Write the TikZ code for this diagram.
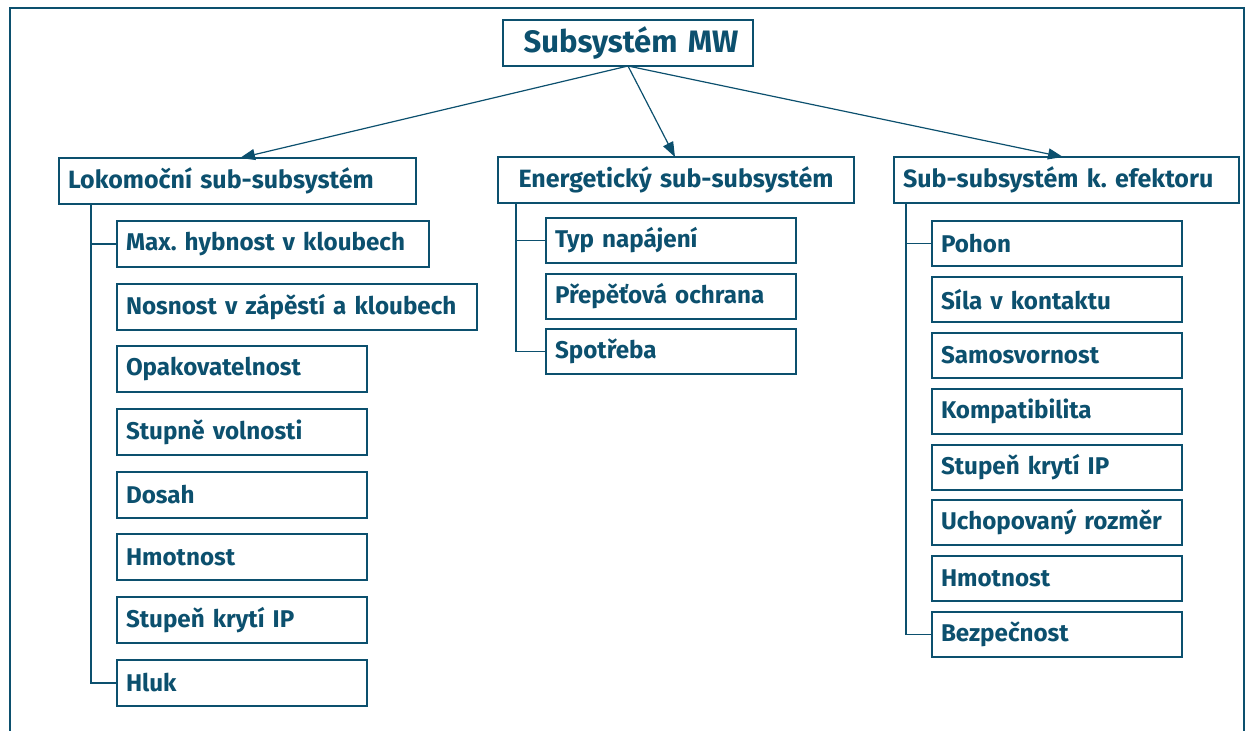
\documentclass[tikz,border=0pt]{standalone}
\usepackage{fontspec}
\setmainfont{Fira Sans}
\frenchspacing
\usetikzlibrary{arrows.meta,calc}
\definecolor{navy}{RGB}{12,80,110}
\tikzset{
  cell/.style={draw=navy, line width=1.6pt, text=navy, anchor=north west,
    minimum height=46pt, inner xsep=9pt, inner ysep=0pt, outer sep=0pt,
    align=left, font=\fontsize{24.2}{27}\selectfont\bfseries},
  headcell/.style={cell, font=\fontsize{25}{28}\selectfont\bfseries},
  rootcell/.style={cell, align=center, font=\fontsize{31}{34}\selectfont\bfseries},
  link/.style={draw=navy, line width=1.2pt},
  arrowlink/.style={link, -{Triangle[length=15pt,width=11pt]}},
}
\begin{document}
\begin{tikzpicture}[x=1pt,y=-1pt]
\useasboundingbox (0,0) rectangle (1251,731);
% outer frame, open at the bottom
\draw[navy, line width=2pt] (10,731) -- (10,8) -- (1244,8) -- (1244,731);

% root
\node[rootcell, text width=232pt] (root) at (503,20) {\hspace*{6pt}Subsystém MW};

% second level
\node[headcell, text width=339pt] (lok) at (59,158) {Lokomoční sub-subsystém};
\node[headcell, text width=338pt, align=center] (ene) at (498,157) {Energetický sub-subsystém};
\node[headcell, text width=327pt] (efe) at (894,157) {Sub-subsystém k. efektoru};

\draw[arrowlink] (root.south) -- ($(lok.north west)+(181,0)$);
\draw[arrowlink] (root.south) -- ($(ene.north west)+(177,0)$);
\draw[arrowlink] (root.south) -- ($(efe.north west)+(169,0)$);

% locomotion items
\node[cell, text width=294pt] (l1) at (117,221) {Max. hybnost v kloubech};
\node[cell, text width=342pt] (l2) at (117,284) {Nosnost v zápěstí a kloubech};
\node[cell, text width=232pt] (l3) at (117,346) {Opakovatelnost};
\node[cell, text width=232pt] (l4) at (117,409) {Stupně volnosti};
\node[cell, text width=232pt] (l5) at (117,472) {Dosah};
\node[cell, text width=232pt] (l6) at (117,534) {Hmotnost};
\node[cell, text width=232pt] (l7) at (117,597) {Stupeň krytí IP};
\node[cell, text width=232pt] (l8) at (117,660) {Hluk};

\coordinate (lt) at ($(lok.south west)+(32,0)$);
\draw[link] (lt) |- (l1.west);
\draw[link] (lt) |- (l8.west);

% energy items
\node[cell, text width=232pt, minimum height=45pt] (e1) at (546,218) {Typ napájení};
\node[cell, text width=232pt, minimum height=45pt] (e2) at (546,274) {Přepěťová ochrana};
\node[cell, text width=232pt, minimum height=45pt] (e3) at (546,329) {Spotřeba};

\coordinate (et) at ($(ene.south west)+(18,0)$);
\draw[link] (et) |- (e1.west);
\draw[link] (et) |- (e3.west);

% end-effector items
\node[cell, text width=232pt, minimum height=45pt] (f1) at (932,221) {Pohon};
\node[cell, text width=232pt, minimum height=45pt] (f2) at (932,277) {Síla v kontaktu};
\node[cell, text width=232pt, minimum height=45pt] (f3) at (932,333) {Samosvornost};
\node[cell, text width=232pt, minimum height=45pt] (f4) at (932,389) {Kompatibilita};
\node[cell, text width=232pt, minimum height=45pt] (f5) at (932,445) {Stupeň krytí IP};
\node[cell, text width=232pt, minimum height=45pt] (f6) at (932,500) {Uchopovaný rozměr};
\node[cell, text width=232pt, minimum height=45pt] (f7) at (932,556) {Hmotnost};
\node[cell, text width=232pt, minimum height=45pt] (f8) at (932,612) {Bezpečnost};

\coordinate (ft) at ($(efe.south west)+(12,0)$);
\draw[link] (ft) |- (f1.west);
\draw[link] (ft) |- (f8.west);
\end{tikzpicture}
\end{document}
